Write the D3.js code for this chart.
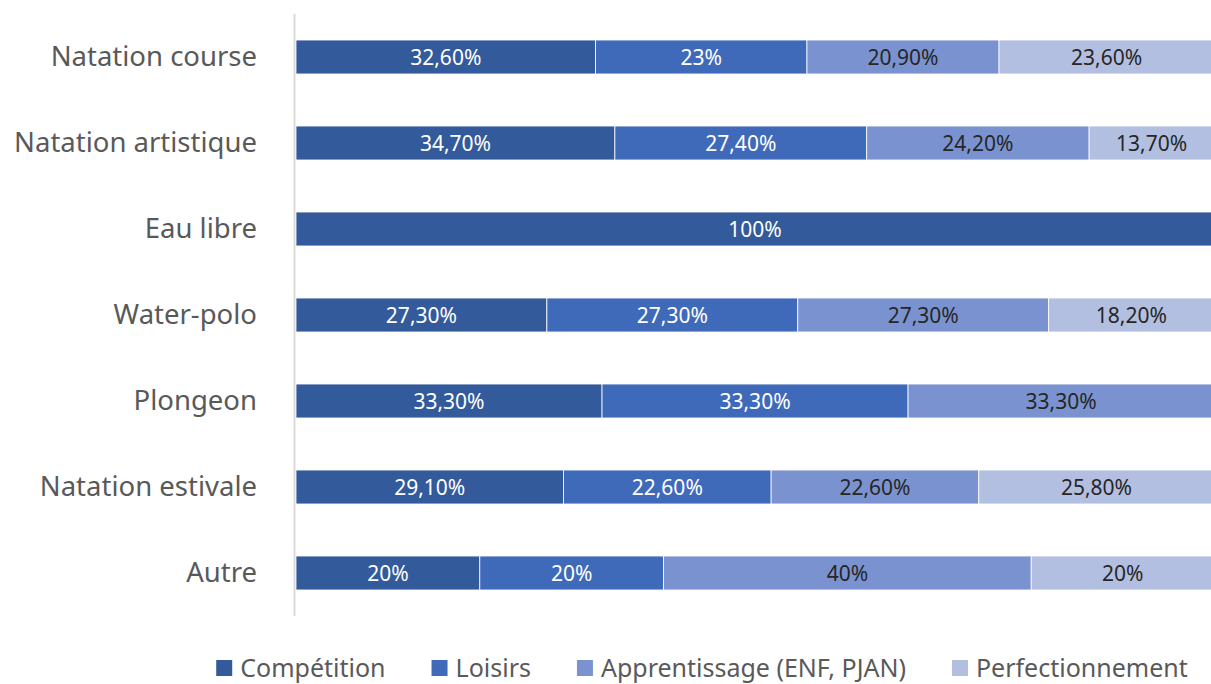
<!DOCTYPE html>
<html>
<head>
<meta charset="utf-8">
<script src="https://cdn.jsdelivr.net/npm/d3@7"></script>
<style>
  html, body { margin: 0; padding: 0; background: #fff; }
  svg { display: block; font-family: "Noto Sans", "Open Sans", sans-serif; }
</style>
</head>
<body>
<svg id="chart"></svg>
<script>
var width = 1211;
var height = 684;

// data
var categories = ["Natation course", "Natation artistique", "Eau libre", "Water-polo", "Plongeon", "Natation estivale", "Autre"];
var seriesNames = ["Compétition", "Loisirs", "Apprentissage (ENF, PJAN)", "Perfectionnement"];
var competition = [32.6, 34.7, 100, 27.3, 33.3, 29.1, 20];
var loisirs = [23, 27.4, 0, 27.3, 33.3, 22.6, 20];
var apprentissage = [20.9, 24.2, 0, 27.3, 33.3, 22.6, 40];
var perfectionnement = [23.6, 13.7, 0, 18.2, 0, 25.8, 20];

var colors = ["#335a9b", "#3f6aba", "#7a93d0", "#b3bfe1"];
var labelColors = ["#ffffff", "#ffffff", "#262626", "#262626"];

var rows = categories.map(function(c, i) {
    return {
        cat: c,
        "Compétition": competition[i],
        "Loisirs": loisirs[i],
        "Apprentissage (ENF, PJAN)": apprentissage[i],
        "Perfectionnement": perfectionnement[i]
    };
});

var stack = d3.stack().keys(seriesNames);
var layers = stack(rows);

var xScale = d3.scaleLinear()
    .domain([0, 100])
    .range([296, 1215]);

var yScale = d3.scaleBand()
    .domain(categories)
    .range([14, 616])
    .paddingInner(0.605)
    .paddingOuter(0.3025);

var svg = d3.select("#chart")
    .attr("width", width)
    .attr("height", height);

function fmt(v) {
    return v % 1 === 0 ? v + "%" : v.toFixed(2).replace(".", ",") + "%";
}

// bars
var groups = svg.selectAll("g.layer")
    .data(layers)
    .enter()
    .append("g")
    .attr("class", "layer")
    .attr("fill", (d, i) => colors[i]);

groups.selectAll("rect")
    .data(d => d.filter(p => p[1] - p[0] > 0))
    .enter()
    .append("rect")
    .attr("x", d => xScale(d[0]))
    .attr("y", d => yScale(d.data.cat))
    .attr("width", d => xScale(d[1]) - xScale(d[0]))
    .attr("height", yScale.bandwidth())
    .attr("stroke", "#ffffff")
    .attr("stroke-width", 0.8);

// value labels
layers.forEach(function(layer, i) {
    svg.append("g")
        .selectAll("text")
        .data(layer.filter(p => p[1] - p[0] > 0))
        .enter()
        .append("text")
        .attr("x", d => (xScale(d[0]) + xScale(Math.min(d[1], 99.9))) / 2)
        .attr("y", d => yScale(d.data.cat) + yScale.bandwidth() / 2 + 8)
        .attr("text-anchor", "middle")
        .attr("font-size", "21px")
        .attr("fill", labelColors[i])
        .text(d => fmt(d.data[layer.key]));
});

// y axis line
svg.append("line")
    .attr("x1", 294.5).attr("x2", 294.5)
    .attr("y1", 14).attr("y2", 616)
    .attr("stroke", "#d9d9d9")
    .attr("stroke-width", 2);

// category labels
svg.append("g")
    .selectAll("text")
    .data(categories)
    .enter()
    .append("text")
    .attr("x", 257)
    .attr("y", d => yScale(d) + yScale.bandwidth() / 2 + 9)
    .attr("text-anchor", "end")
    .attr("font-size", "27.5px")
    .attr("fill", "#595959")
    .text(d => d);

// legend
var legend = svg.append("g");
var lx = 0;
seriesNames.forEach(function(name, i) {
    var g = legend.append("g");
    g.append("rect")
        .attr("x", lx)
        .attr("y", 660)
        .attr("width", 16)
        .attr("height", 16)
        .attr("fill", colors[i]);
    var t = g.append("text")
        .attr("x", lx + 24)
        .attr("y", 677)
        .attr("font-size", "25px")
        .attr("fill", "#595959")
        .text(name);
    lx += 24 + t.node().getComputedTextLength() + 46;
});
var legendWidth = lx - 46;
legend.attr("transform", "translate(" + (702 - legendWidth / 2) + ",0)");
</script>
</body>
</html>
